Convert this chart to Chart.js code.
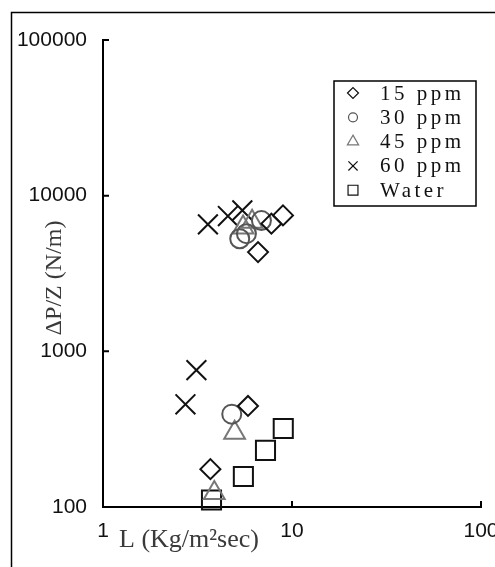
<!DOCTYPE html>
<html>
<head>
<meta charset="utf-8">
<script src="https://cdn.jsdelivr.net/npm/chart.js@4/dist/chart.umd.min.js"></script>
<style>
  html, body { margin: 0; padding: 0; background: #fff; }
  #wrap { width: 495px; height: 567px; position: relative; }
</style>
</head>
<body>
<div id="wrap"><canvas id="myChart"></canvas></div>
<script>
// ticks de los ejes (escala log)
const xTicks = [1, 10, 100];
const yTicks = [100, 1000, 10000, 100000];

// datos
const ppm15X = [8.96, 7.78, 6.61, 5.85, 3.70];
const ppm15Y = [7470, 6610, 4340, 446, 175];

const ppm30X = [6.89, 5.74, 5.29, 4.80];
const ppm30Y = [6920, 5700, 5290, 395];

const ppm45X = [6.15, 5.51, 4.97, 3.88];
const ppm45Y = [6800, 6250, 300, 123];

const ppm60X = [3.59, 4.58, 5.46, 3.12, 2.73];
const ppm60Y = [6540, 7400, 8050, 757, 457];

const waterX = [3.75, 5.53, 7.24, 8.99];
const waterY = [111, 157, 231, 319];

const labels = ['15 ppm', '30 ppm', '45 ppm', '60 ppm', 'Water'];

const toPoints = (xs, ys) => xs.map((x, i) => ({ x: x, y: ys[i] }));

const tickFont = { family: "'Liberation Sans', Arial, sans-serif", size: 21 };

// estilos de cada serie
const series = [
  { data: toPoints(ppm15X, ppm15Y), style: 'rectRot', color: '#111', radius: 10, legendR: 5.5 },
  { data: toPoints(ppm30X, ppm30Y), style: 'circle', color: '#555', radius: 9.5, legendR: 4.5 },
  { data: toPoints(ppm45X, ppm45Y), style: 'triangle', color: '#777', radius: 12, legendR: 6.5 },
  { data: toPoints(ppm60X, ppm60Y), style: 'crossRot', color: '#111', radius: 14, legendR: 6.5 },
  { data: toPoints(waterX, waterY), style: 'rect', color: '#111', radius: 13.5, legendR: 7 }
];

// sin padding automatico para que el area quede fija
function noPadding(s) {
  s.paddingLeft = 0;
  s.paddingRight = 0;
  s.paddingTop = 0;
  s.paddingBottom = 0;
}

// marco, ticks hacia adentro, titulos y leyenda
const decorPlugin = {
  id: 'decor',
  beforeDraw(chart) {
    const ctx = chart.ctx;
    ctx.save();
    ctx.strokeStyle = '#000';
    ctx.lineWidth = 1.5;
    ctx.strokeRect(11.5, 12.5, 700, 700);
    ctx.restore();
  },
  afterDraw(chart) {
    const ctx = chart.ctx;
    const xs = chart.scales.x;
    const ys = chart.scales.y;
    ctx.save();
    ctx.strokeStyle = '#000';
    ctx.lineWidth = 2;
    ctx.beginPath();
    yTicks.forEach(v => {
      const py = ys.getPixelForValue(v);
      ctx.moveTo(ys.right, py);
      ctx.lineTo(ys.right + 6, py);
    });
    xTicks.forEach(v => {
      const px = xs.getPixelForValue(v);
      ctx.moveTo(px, xs.top);
      ctx.lineTo(px, xs.top - 6);
    });
    ctx.stroke();

    // titulos
    ctx.fillStyle = '#3a3a3a';
    ctx.font = "26px 'Liberation Serif', 'Times New Roman', serif";
    ctx.textBaseline = 'middle';
    ctx.textAlign = 'left';
    ctx.fillText('L (Kg/m\u00B2sec)', 119, 540);

    ctx.font = "24px 'Liberation Serif', 'Times New Roman', serif";
    ctx.save();
    ctx.translate(55, 278);
    ctx.rotate(-Math.PI / 2);
    ctx.textAlign = 'center';
    ctx.fillText('\u0394P/Z (N/m)', 0, 0);
    ctx.restore();

    // leyenda
    ctx.lineWidth = 1.5;
    ctx.strokeStyle = '#000';
    ctx.strokeRect(334, 81, 142, 125);
    ctx.font = "21px 'Liberation Serif', 'Times New Roman', serif";
    ctx.letterSpacing = '3.5px';
    ctx.textAlign = 'left';
    chart.data.datasets.forEach((ds, i) => {
      const rowY = 93 + i * 24.3;
      ctx.strokeStyle = ds.borderColor;
      ctx.fillStyle = 'rgba(0,0,0,0)';
      ctx.lineWidth = 1.2;
      Chart.helpers.drawPoint(ctx, {
        pointStyle: ds.pointStyle, rotation: 0,
        radius: series[i].legendR, borderWidth: 1.2
      }, 353, rowY);
      ctx.fillStyle = '#111';
      ctx.fillText(ds.label, 380, rowY + 1);
    });
    ctx.restore();
  }
};

const ctx = document.getElementById('myChart').getContext('2d');
const chart = new Chart(ctx, {
  type: 'scatter',
  data: {
    datasets: series.map((s, i) => ({
      label: labels[i],
      data: s.data,
      pointStyle: s.style,
      pointRadius: s.radius,
      pointHoverRadius: s.radius,
      borderColor: s.color,
      backgroundColor: 'rgba(0,0,0,0)',
      pointBorderWidth: 2,
      showLine: false,
      clip: false
    }))
  },
  options: {
    responsive: true,
    maintainAspectRatio: false,
    devicePixelRatio: 1,
    animation: false,
    layout: {
      autoPadding: false,
      padding: { left: 0, right: 14, top: 40, bottom: 0 }
    },
    plugins: {
      legend: { display: false },
      tooltip: { enabled: false }
    },
    scales: {
      x: {
        type: 'logarithmic',
        min: 1,
        max: 100,
        afterBuildTicks: s => { s.ticks = xTicks.map(v => ({ value: v })); },
        afterFit: s => { s.height = 60; noPadding(s); },
        grid: { display: false, drawTicks: false },
        border: { display: true, color: '#000', width: 2 },
        ticks: {
          font: tickFont, color: '#111', padding: 12,
          maxRotation: 0, autoSkip: false,
          callback: v => String(v)
        }
      },
      y: {
        type: 'logarithmic',
        min: 100,
        max: 100000,
        afterBuildTicks: s => { s.ticks = yTicks.map(v => ({ value: v })); },
        afterFit: s => { s.width = 103; noPadding(s); },
        grid: { display: false, drawTicks: false },
        border: { display: true, color: '#000', width: 2 },
        ticks: {
          font: tickFont, color: '#111', padding: 16,
          autoSkip: false,
          callback: v => String(v)
        }
      }
    }
  },
  plugins: [decorPlugin]
});
</script>
</body>
</html>
